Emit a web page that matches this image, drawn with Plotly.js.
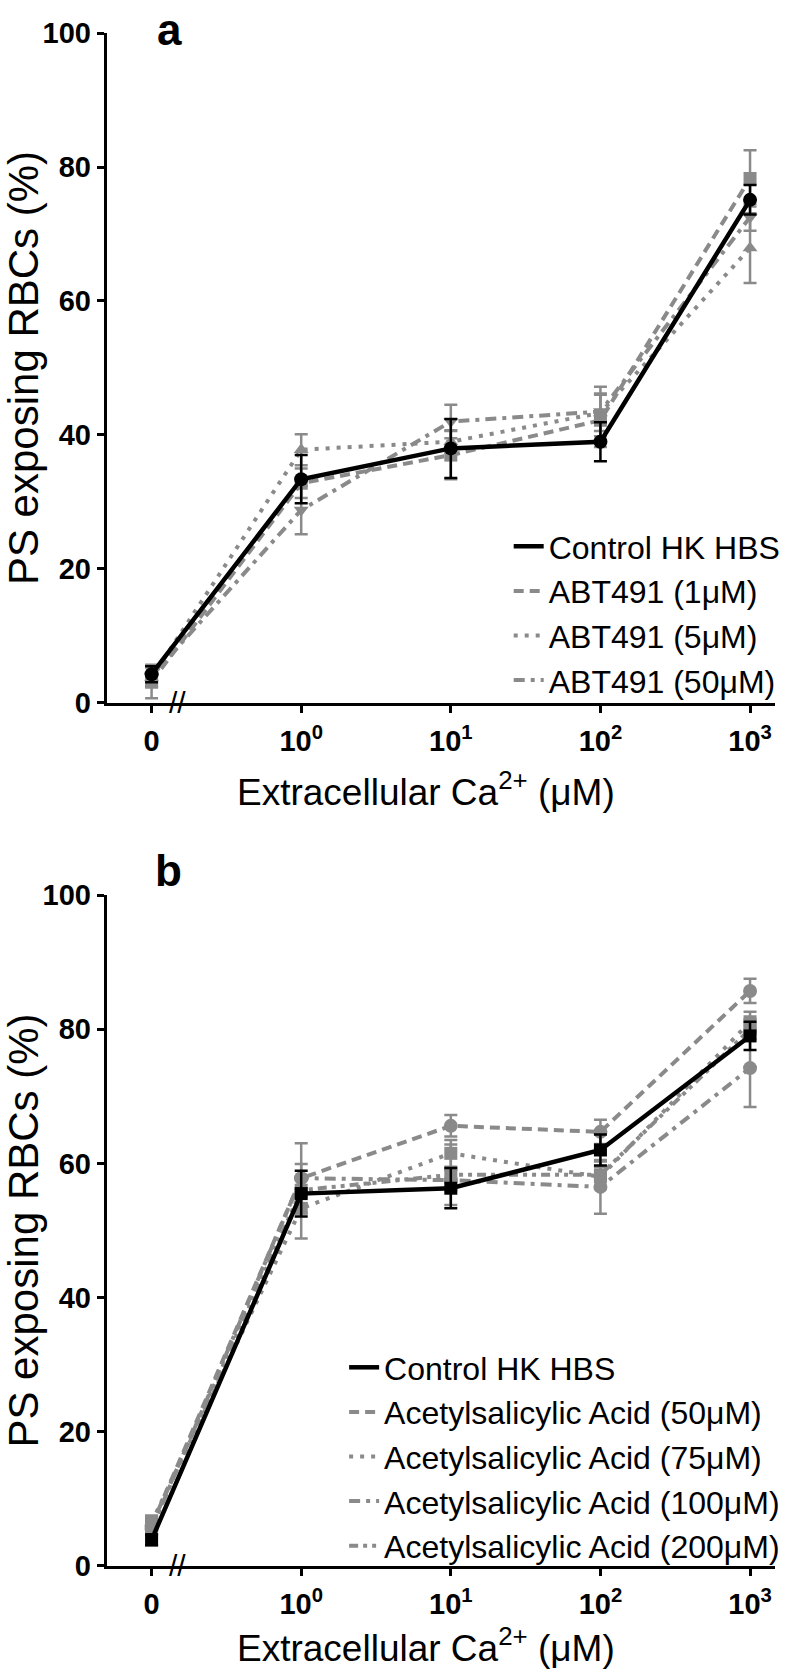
<!DOCTYPE html>
<html>
<head>
<meta charset="utf-8">
<script src="https://cdn.plot.ly/plotly-3.0.1.min.js"></script>
<style>
html, body { margin: 0; padding: 0; background: #fff; }
#viz { width: 786px; height: 1673px; }
</style>
</head>
<body>
<div id="viz"></div>
<script>
// x positions stand for 0, 10^0 ... 10^3 µM (broken axis after 0)
const xPos = [0, 1, 2, 3, 4];
const xTickText = ['0', '10<sup>0</sup>', '10<sup>1</sup>', '10<sup>2</sup>', '10<sup>3</sup>'];
const yTicks = [0, 20, 40, 60, 80, 100];

// panel a
const namesA = ['Control HK HBS', 'ABT491 (1μM)', 'ABT491 (5μM)', 'ABT491 (50μM)'];
const ctrlA = [4.3, 33.4, 38.0, 39.0, 75.1];
const ctrlAErr = [1.2, 3.6, 4.4, 2.9, 2.2];
const abt1 = [3.2, 32.8, 37.0, 42.2, 78.3];
const abt1Err = [2.5, 2.2, 3.6, 4.0, 4.2];
const abt5 = [3.8, 37.8, 39.0, 43.3, 67.9];
const abt5Err = [1.5, 2.3, 1.7, 2.7, 5.2];
const abt50 = [4.0, 28.8, 42.0, 43.5, 72.5];
const abt50Err = [1.5, 3.6, 2.5, 3.7, 2.0];

// panel b
const namesB = ['Control HK HBS', 'Acetylsalicylic Acid (50μM)', 'Acetylsalicylic Acid (75μM)',
	'Acetylsalicylic Acid (100μM)', 'Acetylsalicylic Acid (200μM)'];
const ctrlB = [3.9, 55.5, 56.3, 62.0, 79.0];
const ctrlBErr = [0.8, 3.4, 3.0, 2.3, 2.1];
const aa50 = [6.0, 57.8, 65.6, 64.7, 85.7];
const aa50Err = [1.5, 5.2, 1.6, 1.8, 1.8];
const aa75 = [6.5, 53.3, 61.5, 58.0, 81.1];
const aa75Err = [1.0, 4.5, 2.0, 1.5, 1.5];
const aa100 = [5.5, 57.8, 57.5, 56.5, 74.2];
const aa100Err = [1.5, 2.1, 1.5, 4.0, 5.8];
const aa200 = [6.0, 56.0, 58.3, 58.3, 80.0];
const aa200Err = [1.0, 2.0, 4.5, 2.0, 1.5];

const FONT = 'Liberation Sans, Arial, sans-serif';
const GREY = '#8a8a8a';
const BLACK = '#000';

// one series = a line trace (in legend) + a marker/error trace
function series(panel, name, y, err, dash, symbol, color, width, rank) {
	const xa = panel === 'a' ? 'x' : 'x2';
	const ya = panel === 'a' ? 'y' : 'y2';
	const lg = panel === 'a' ? 'legend' : 'legend2';
	const size = symbol === 'circle' ? 14 : 13;
	return [
		{
			x: xPos, y: y, xaxis: xa, yaxis: ya, name: name, legend: lg, legendrank: rank,
			type: 'scatter', mode: 'lines',
			line: { color: color, width: width, dash: dash }
		},
		{
			x: xPos, y: y, xaxis: xa, yaxis: ya, showlegend: false, legend: lg,
			type: 'scatter', mode: 'markers',
			marker: { color: color, size: size, symbol: symbol },
			error_y: { type: 'data', array: err, visible: true, color: color, thickness: 2.5, width: 6.5 }
		}
	];
}

const DASH = '10px,6px';
const DOT = '4px,7px';
const DASHDOT = '11px,6px,4px,6px';
const DASHDOTDOT = '9px,5px,4px,5px,4px,5px';

const data = [].concat(
	series('a', namesA[1], abt1, abt1Err, DASH, 'square', GREY, 4, 2),
	series('a', namesA[2], abt5, abt5Err, DOT, 'triangle-up', GREY, 4, 3),
	series('a', namesA[3], abt50, abt50Err, DASHDOT, 'triangle-down', GREY, 4, 4),
	series('a', namesA[0], ctrlA, ctrlAErr, 'solid', 'circle', BLACK, 4.5, 1),
	series('b', namesB[1], aa50, aa50Err, DASH, 'circle', GREY, 4, 2),
	series('b', namesB[2], aa75, aa75Err, DOT, 'square', GREY, 4, 3),
	series('b', namesB[3], aa100, aa100Err, DASHDOT, 'circle', GREY, 4, 4),
	series('b', namesB[4], aa200, aa200Err, DASHDOTDOT, 'square', GREY, 4, 5),
	series('b', namesB[0], ctrlB, ctrlBErr, 'solid', 'square', BLACK, 4.5, 1)
);

const tickFont = { family: FONT, size: 29, color: '#000', weight: 'bold' };
const xTitle = 'Extracellular Ca<sup>2+</sup> (μM)';
const yTitle = 'PS exposing RBCs (%)';

function xAxis(anchor) {
	return {
		anchor: anchor, domain: [0.1361, 0.9885], range: [-0.3, 4.1667],
		tickmode: 'array', tickvals: xPos, ticktext: xTickText, tickfont: tickFont,
		ticks: 'outside', ticklen: 7, tickwidth: 3, tickcolor: '#000', ticklabelstandoff: 3,
		showline: true, linewidth: 3, linecolor: '#000', showgrid: false, zeroline: false
	};
}
function yAxis(anchor, domain) {
	return {
		anchor: anchor, domain: domain, range: [0, 100],
		tickmode: 'array', tickvals: yTicks, tickfont: tickFont,
		ticks: 'outside', ticklen: 7, tickwidth: 3, tickcolor: '#000', ticklabelstandoff: 0,
		showline: true, linewidth: 3, linecolor: '#000', showgrid: false, zeroline: false,
		title: { text: yTitle, font: { family: FONT, size: 42, color: '#000' }, standoff: 6 }
	};
}

const legendFont = { family: FONT, size: 32, color: '#000' };

function label(text, x, y, size, bold, xref, yref) {
	return {
		text: text, xref: xref || 'paper', yref: yref || 'paper', x: x, y: y,
		xanchor: 'center', yanchor: 'middle', showarrow: false,
		font: { family: FONT, size: size, weight: bold ? 'bold' : 'normal', color: '#000' }
	};
}

const layout = {
	width: 786, height: 1673,
	margin: { l: 0, r: 0, t: 0, b: 0 },
	paper_bgcolor: '#fff', plot_bgcolor: '#fff',
	showlegend: true,
	xaxis: xAxis('y'),
	yaxis: yAxis('x', [0.5798, 0.98027]),
	xaxis2: xAxis('y2'),
	yaxis2: yAxis('x2', [0.06396, 0.46503]),
	legend: {
		x: 510 / 786, y: 1 - 519 / 1673, xanchor: 'left', yanchor: 'top',
		font: legendFont, bgcolor: 'rgba(0,0,0,0)', traceorder: 'normal', itemwidth: 30
	},
	legend2: {
		x: 345 / 786, y: 1 - 1340 / 1673, xanchor: 'left', yanchor: 'top',
		font: legendFont, bgcolor: 'rgba(0,0,0,0)', traceorder: 'normal', itemwidth: 30
	},
	annotations: [
		label('a', 170 / 786, 1 - 30 / 1673, 44, true),
		label('b', 169 / 786, 1 - 870 / 1673, 44, true),
		label(xTitle, 427 / 786, 1 - 790 / 1673, 37, false),
		label(xTitle, 427 / 786, 1 - 1645 / 1673, 37, false),
		label('//', 0.17, 0, 30, false, 'x', 'y'),
		label('//', 0.17, 0, 30, false, 'x2', 'y2')
	]
};

Plotly.newPlot('viz', data, layout, { displayModeBar: false, staticPlot: true });
</script>
</body>
</html>
